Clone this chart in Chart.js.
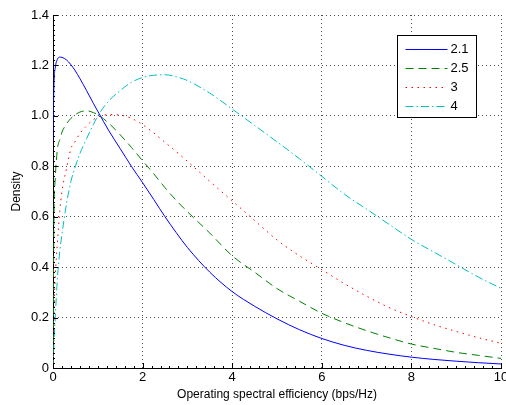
<!DOCTYPE html>
<html>
<head>
<meta charset="utf-8">
<script src="https://cdn.jsdelivr.net/npm/chart.js@4/dist/chart.umd.min.js"></script>
<style>
html,body{margin:0;padding:0;background:#fff;overflow:hidden}
#wrap{position:relative;width:506px;height:405px}
</style>
</head>
<body>
<div id="wrap"><canvas id="c" width="506" height="405"></canvas></div>
<script>
// ---- data ----
const xValues = [0, 0.02, 0.05, 0.1, 0.15, 0.2, 0.3, 0.4, 0.5, 0.6, 0.75, 0.9, 1, 1.25, 1.5, 1.75, 2, 2.25, 2.5, 2.75, 3, 3.5, 4, 4.5, 5, 5.5, 6, 6.5, 7, 7.5, 8, 8.5, 9, 9.5, 10];
const density21 = [0.90, 1.12, 1.19, 1.225, 1.233, 1.232, 1.222, 1.203, 1.178, 1.148, 1.10, 1.05, 1.018, 0.94, 0.87, 0.80, 0.735, 0.668, 0.60, 0.537, 0.478, 0.38, 0.303, 0.245, 0.195, 0.152, 0.117, 0.09, 0.07, 0.055, 0.043, 0.034, 0.027, 0.021, 0.016];
const density25 = [0, 0.58, 0.75, 0.87, 0.905, 0.935, 0.968, 0.99, 1.005, 1.015, 1.02, 1.013, 1.005, 0.97, 0.925, 0.875, 0.822, 0.77, 0.715, 0.665, 0.62, 0.535, 0.445, 0.38, 0.315, 0.265, 0.217, 0.18, 0.148, 0.12, 0.095, 0.078, 0.062, 0.05, 0.038];
const density3 = [0, 0.2, 0.36, 0.5, 0.62, 0.7, 0.79, 0.87, 0.9, 0.93, 0.96, 0.985, 0.995, 1.005, 1.003, 0.99, 0.965, 0.932, 0.895, 0.858, 0.82, 0.74, 0.663, 0.585, 0.508, 0.445, 0.39, 0.335, 0.285, 0.24, 0.204, 0.172, 0.145, 0.12, 0.098];
const density4 = [0, 0.09, 0.2, 0.36, 0.46, 0.53, 0.65, 0.74, 0.8, 0.85, 0.91, 0.965, 1.0, 1.06, 1.10, 1.133, 1.152, 1.161, 1.163, 1.155, 1.14, 1.09, 1.027, 0.962, 0.897, 0.83, 0.76, 0.69, 0.63, 0.57, 0.51, 0.46, 0.41, 0.36, 0.316];
const seriesLabels = ['2.1', '2.5', '3', '4'];
const xTickValues = [0, 2, 4, 6, 8, 10];
const yTickValues = [0, 0.2, 0.4, 0.6, 0.8, 1, 1.2, 1.4];
const xTitle = 'Operating spectral efficiency (bps/Hz)';
const yTitle = 'Density';

// ---- styles ----
const seriesData = [density21, density25, density3, density4];
const seriesColors = ['rgb(0,0,255)', 'rgb(0,128,0)', 'rgb(255,0,0)', 'rgb(0,191,191)'];
const seriesDash = [[], [8, 5], [1.5, 4.5], [8, 3, 1.5, 3]];
const FONT = "'Liberation Sans', Arial, Helvetica, sans-serif";
Chart.defaults.font.family = FONT;
Chart.defaults.color = '#000';

const datasets = seriesData.map((vals, k) => ({
  label: seriesLabels[k],
  data: xValues.map((x, i) => ({x: x, y: vals[i]})),
  borderColor: seriesColors[k],
  backgroundColor: seriesColors[k],
  borderWidth: 1,
  borderDash: seriesDash[k],
  pointRadius: 0,
  fill: false,
  cubicInterpolationMode: 'monotone'
}));

const matlabAxes = {
  id: 'matlabAxes',
  afterDraw(chart) {
    const {ctx, chartArea: a, scales: {x, y}} = chart;
    ctx.save();
    ctx.strokeStyle = '#000';
    ctx.lineWidth = 1;
    ctx.setLineDash([]);
    ctx.beginPath();
    xTickValues.forEach(v => {
      const p = Math.round(x.getPixelForValue(v)) + 0.5;
      ctx.moveTo(p, a.bottom); ctx.lineTo(p, a.bottom - 5);
    });
    yTickValues.forEach(v => {
      const p = Math.round(y.getPixelForValue(v)) + 0.5;
      ctx.moveTo(a.left, p); ctx.lineTo(a.left + 5, p);
    });
    ctx.stroke();
    // minor ticks
    ctx.beginPath();
    for (let i = 0; i < xTickValues.length - 1; i++) {
      const step = (xTickValues[i + 1] - xTickValues[i]) / 10;
      for (let j = 1; j < 10; j++) {
        const p = Math.round(x.getPixelForValue(xTickValues[i] + j * step)) + 0.5;
        ctx.moveTo(p, a.bottom); ctx.lineTo(p, a.bottom - 2);
      }
    }
    for (let i = 0; i < yTickValues.length - 1; i++) {
      const step = (yTickValues[i + 1] - yTickValues[i]) / 10;
      for (let j = 1; j < 10; j++) {
        const p = Math.round(y.getPixelForValue(yTickValues[i] + j * step)) + 0.5;
        ctx.moveTo(a.left, p); ctx.lineTo(a.left + 2, p);
      }
    }
    ctx.stroke();

    // legend
    const bw = 79, bh = 82;
    const bx = Math.round(a.right - 104) + 0.5;
    const by = Math.round(a.top + 20) + 0.5;
    ctx.fillStyle = '#fff';
    ctx.fillRect(bx, by, bw, bh);
    ctx.strokeRect(bx, by, bw, bh);
    ctx.font = '13px ' + FONT;
    ctx.textBaseline = 'middle';
    ctx.textAlign = 'left';
    chart.data.datasets.forEach((ds, i) => {
      const yy = Math.round(by + 13 + i * 19) + 0.5;
      ctx.beginPath();
      ctx.strokeStyle = ds.borderColor;
      ctx.lineWidth = 1;
      ctx.setLineDash(ds.borderDash);
      ctx.moveTo(bx + 8, yy); ctx.lineTo(bx + 50, yy);
      ctx.stroke();
      ctx.setLineDash([]);
      ctx.fillStyle = '#000';
      ctx.fillText(ds.label, bx + 53, yy);
    });
    ctx.restore();
  }
};

new Chart(document.getElementById('c'), {
  type: 'line',
  data: {datasets},
  plugins: [matlabAxes],
  options: {
    responsive: false,
    animation: false,
    devicePixelRatio: 1,
    layout: {padding: {left: 0, top: 15, right: 5, bottom: 0}},
    plugins: {legend: {display: false}, tooltip: {enabled: false}},
    scales: {
      x: {
        type: 'linear', min: 0, max: 10,
        afterBuildTicks: s => { s.ticks = xTickValues.map(v => ({value: v})); },
        afterFit: s => { s.height = 37; s.paddingLeft = 0; s.paddingRight = 0; },
        ticks: {color: '#000', font: {size: 13}, padding: 2, maxRotation: 0, autoSkip: false},
        grid: {color: 'rgba(0,0,0,0.7)', lineWidth: 1, drawTicks: false},
        border: {display: true, color: '#000', width: 1, dash: [1, 3]},
        title: {display: true, text: xTitle, color: '#000', font: {size: 12}, padding: {top: 0, bottom: 3}}
      },
      y: {
        type: 'linear', min: 0, max: 1.4,
        afterBuildTicks: s => { s.ticks = yTickValues.map(v => ({value: v})); },
        afterFit: s => { s.width = 53; s.paddingTop = 0; s.paddingBottom = 0; },
        ticks: {color: '#000', font: {size: 13}, padding: 4},
        grid: {color: 'rgba(0,0,0,0.7)', lineWidth: 1, drawTicks: false},
        border: {display: true, color: '#000', width: 1, dash: [1, 3]},
        title: {display: true, text: yTitle, color: '#000', font: {size: 12}, padding: {top: 9, bottom: 0}}
      }
    }
  }
});
</script>
</body>
</html>
